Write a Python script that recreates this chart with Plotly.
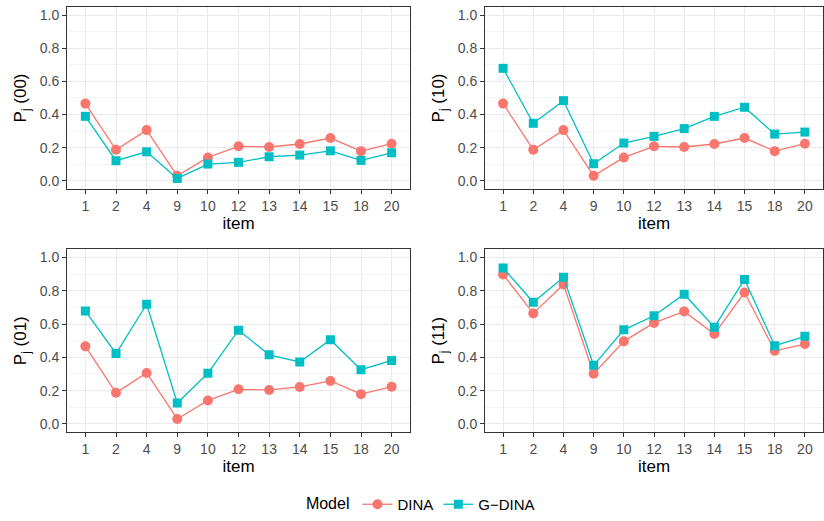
import plotly.graph_objects as go

items = ["1", "2", "4", "9", "10", "12", "13", "14", "15", "18", "20"]

dina_00 = [0.466, 0.187, 0.306, 0.030, 0.141, 0.208, 0.204, 0.222, 0.258, 0.179, 0.224]
gdina_00 = [0.389, 0.121, 0.175, 0.014, 0.101, 0.111, 0.145, 0.155, 0.181, 0.123, 0.169]

dina_10 = [0.466, 0.187, 0.306, 0.030, 0.141, 0.208, 0.204, 0.222, 0.258, 0.179, 0.224]
gdina_10 = [0.679, 0.347, 0.484, 0.103, 0.228, 0.268, 0.315, 0.389, 0.444, 0.282, 0.294]

dina_01 = [0.466, 0.187, 0.306, 0.030, 0.141, 0.208, 0.204, 0.222, 0.258, 0.179, 0.224]
gdina_01 = [0.678, 0.423, 0.719, 0.126, 0.304, 0.563, 0.415, 0.372, 0.506, 0.326, 0.381]

dina_11 = [0.897, 0.664, 0.838, 0.302, 0.496, 0.607, 0.676, 0.540, 0.789, 0.439, 0.480]
gdina_11 = [0.937, 0.731, 0.881, 0.352, 0.565, 0.650, 0.779, 0.581, 0.868, 0.470, 0.526]

panel_labels = ["P<sub>j</sub> (00)", "P<sub>j</sub> (10)", "P<sub>j</sub> (01)", "P<sub>j</sub> (11)"]
y_ticks = [0.0, 0.2, 0.4, 0.6, 0.8, 1.0]
y_minor = [0.1, 0.3, 0.5, 0.7, 0.9]

DINA_COLOR = "#F8766D"
GDINA_COLOR = "#00BFC4"
FONT = "Liberation Sans, Arial, sans-serif"

W, H = 824, 521
# panel pixel boxes (left, right, top, bottom)
boxes = [
    (67, 410, 7, 192),
    (485, 823, 7, 192),
    (67, 410, 253, 439),
    (485, 823, 253, 439),
]

data = [(dina_00, gdina_00), (dina_10, gdina_10), (dina_01, gdina_01), (dina_11, gdina_11)]

fig = go.Figure()
for i, ((d, g), (l, r, t, b)) in enumerate(zip(data, boxes)):
    n = "" if i == 0 else str(i + 1)
    xa = "x" + n
    ya = "y" + n
    fig.add_trace(go.Scatter(
        x=items, y=d, mode="lines+markers", name="DINA", legendgroup="DINA",
        showlegend=(i == 0), xaxis=xa, yaxis=ya,
        line=dict(color=DINA_COLOR, width=1.3),
        marker=dict(symbol="circle", size=10, color=DINA_COLOR),
    ))
    fig.add_trace(go.Scatter(
        x=items, y=g, mode="lines+markers", name="G\u2212DINA", legendgroup="GDINA",
        showlegend=(i == 0), xaxis=xa, yaxis=ya,
        line=dict(color=GDINA_COLOR, width=1.3),
        marker=dict(symbol="square", size=9, color=GDINA_COLOR),
    ))
    xkey = "xaxis" + n
    ykey = "yaxis" + n
    fig.layout[xkey] = dict(
        domain=[l / W, r / W], anchor=ya, type="category",
        categoryorder="array", categoryarray=items,
        range=[-0.6, len(items) - 0.4],
        showgrid=True, gridcolor="#EBEBEB", gridwidth=1,
        showline=True, linecolor="#333333", linewidth=1, mirror=True,
        ticks="outside", ticklen=4, tickcolor="#333333", tickwidth=1,
        tickfont=dict(family=FONT, size=14, color="#4D4D4D"),
        title=dict(text="item", font=dict(family=FONT, size=17, color="#000000"), standoff=4),
        zeroline=False, automargin=False, fixedrange=True,
    )
    fig.layout[ykey] = dict(
        domain=[(H - b) / H, (H - t) / H], anchor=xa,
        range=[-0.05, 1.05], tickvals=y_ticks, ticktext=[f"{v:.1f}" for v in y_ticks],
        showgrid=True, gridcolor="#EBEBEB", gridwidth=1,
        minor=dict(tickvals=y_minor, showgrid=True, gridcolor="#F3F3F3", gridwidth=0.6, ticks=""),
        showline=True, linecolor="#333333", linewidth=1, mirror=True,
        ticks="outside", ticklen=4, tickcolor="#333333", tickwidth=1,
        tickfont=dict(family=FONT, size=14, color="#4D4D4D"),
        title=dict(text=panel_labels[i], font=dict(family=FONT, size=17, color="#000000"), standoff=8),
        zeroline=False, automargin=False, fixedrange=True,
    )

fig.update_layout(
    width=W, height=H,
    margin=dict(l=0, r=0, t=0, b=0),
    paper_bgcolor="white", plot_bgcolor="white",
    font=dict(family=FONT, color="#000000"),
    showlegend=True,
    legend=dict(
        orientation="h", x=0.512, xanchor="center", y=0.016, yanchor="middle",
        title=dict(text="Model", font=dict(family=FONT, size=16, color="#000000")),
        font=dict(family=FONT, size=15, color="#000000"),
        itemwidth=30, bgcolor="rgba(0,0,0,0)",
    ),
)

fig.write_html(
    "out.html",
    config={"displayModeBar": False},
    post_script="document.body.style.margin='0';document.body.style.overflow='hidden';",
)
